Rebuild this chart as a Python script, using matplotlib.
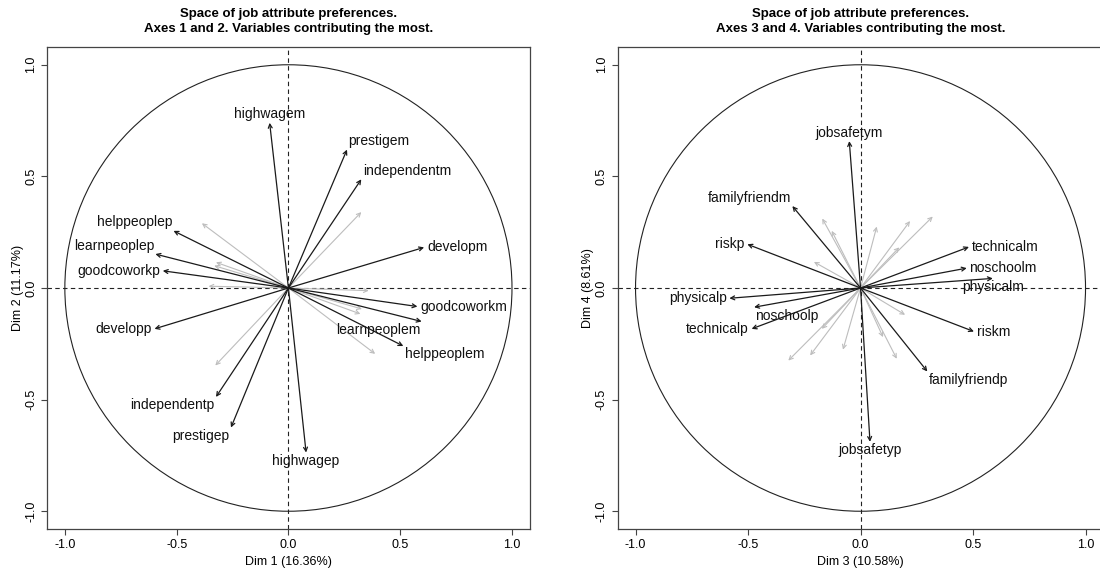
import matplotlib.pyplot as plt
import numpy as np

plt.rcParams['font.family'] = ['Liberation Sans', 'DejaVu Sans']
plt.rcParams['axes.unicode_minus'] = False

# Axes 1 and 2: variables contributing the most (black arrows)
names_12 = ['highwagem', 'prestigem', 'independentm', 'developm', 'goodcoworkm',
            'learnpeoplem', 'helppeoplem', 'highwagep', 'prestigep', 'independentp',
            'developp', 'goodcoworkp', 'learnpeoplep', 'helppeoplep']
dim1 = [-0.084, 0.262, 0.326, 0.607, 0.577, 0.596, 0.514, 0.079, -0.257, -0.324,
        -0.599, -0.562, -0.595, -0.514]
dim2 = [0.74, 0.62, 0.487, 0.182, -0.083, -0.150, -0.26, -0.737, -0.625, -0.488,
        -0.183, 0.077, 0.152, 0.256]
# label side relative to arrow tip
side_12 = ['N', 'NE', 'NE', 'E', 'E', 'SW', 'SE', 'S', 'SW', 'SW', 'W', 'W', 'NW', 'NW']

# remaining variables (grey arrows)
grey_dim1 = [-0.387, -0.324, -0.332, -0.357, 0.326, 0.359, 0.329, 0.322, 0.388, -0.327]
grey_dim2 = [0.29, 0.115, 0.10, 0.008, 0.34, -0.012, -0.094, -0.116, -0.295, -0.347]

# Axes 3 and 4
names_34 = ['jobsafetym', 'familyfriendm', 'riskp', 'physicalp', 'noschoolp', 'technicalp',
            'jobsafetyp', 'technicalm', 'noschoolm', 'physicalm', 'riskm', 'familyfriendp']
dim3 = [-0.05, -0.303, -0.503, -0.583, -0.473, -0.484, 0.042, 0.482, 0.472, 0.588, 0.504, 0.297]
dim4 = [0.658, 0.367, 0.196, -0.046, -0.086, -0.183, -0.689, 0.184, 0.089, 0.043, -0.195, -0.374]
side_34 = ['N', 'NW', 'W', 'W', 'SE', 'W', 'S', 'E', 'E', 'S', 'E', 'SE']

grey_dim3 = [-0.17, 0.072, 0.22, 0.321, 0.172, -0.207, -0.128, 0.198, 0.161, 0.10,
             -0.321, -0.224, -0.172, -0.078]
grey_dim4 = [0.311, 0.275, 0.30, 0.32, 0.182, 0.117, 0.256, -0.12, -0.317, -0.22,
             -0.325, -0.302, -0.183, -0.276]

ticks = [-1.0, -0.5, 0.0, 0.5, 1.0]

# offset (points), ha, va for each label side
placement = {'N': (0, 1, 'center', 'bottom'), 'S': (0, -1, 'center', 'top'),
             'E': (2, 0, 'left', 'center'), 'W': (-2, 0, 'right', 'center'),
             'NE': (1, 1, 'left', 'bottom'), 'NW': (-1, 1, 'right', 'bottom'),
             'SE': (1, -1, 'left', 'top'), 'SW': (-1, -1, 'right', 'top')}


def arrow(ax, x, y, color, lw):
    ax.annotate('', xy=(x, y), xytext=(0, 0),
                arrowprops=dict(arrowstyle='->', color=color, lw=lw,
                                shrinkA=0, shrinkB=0, mutation_scale=7))


def draw_panel(ax, names, xs, ys, sides, gx, gy, title, xlabel, ylabel):
    ax.add_patch(plt.Circle((0, 0), 1, fill=False, color='#222222', lw=0.8))
    ax.axhline(0, color='#222222', lw=0.8, dashes=(4, 3))
    ax.axvline(0, color='#222222', lw=0.8, dashes=(4, 3))

    for x, y in zip(gx, gy):
        arrow(ax, x, y, '#bdbdbd', 0.8)
    for name, x, y, s in zip(names, xs, ys, sides):
        arrow(ax, x, y, '#1a1a1a', 0.9)
        dx, dy, ha, va = placement[s]
        ax.annotate(name, xy=(x, y), xytext=(dx, dy), textcoords='offset points',
                    ha=ha, va=va, fontsize=10, color='#111111')

    ax.set_xlim(-1.08, 1.08)
    ax.set_ylim(-1.08, 1.08)
    ax.set_xticks(ticks)
    ax.set_yticks(ticks)
    ax.set_xticklabels(['%.1f' % t for t in ticks], fontsize=9)
    ax.set_yticklabels(['%.1f' % t for t in ticks], fontsize=9, rotation=90, va='center')
    ax.tick_params(length=4, width=0.8, color='#444444', pad=3)
    for sp in ax.spines.values():
        sp.set_color('#444444')
        sp.set_linewidth(0.9)
    ax.set_xlabel(xlabel, fontsize=9, labelpad=4)
    ax.set_ylabel(ylabel, fontsize=9, labelpad=1)
    ax.set_title(title, fontsize=9.5, fontweight='bold', pad=11, linespacing=1.3)


fig = plt.figure(figsize=(11, 5.72), dpi=100)
ax1 = fig.add_axes([0.0427, 0.075, 0.439, 0.843])
ax2 = fig.add_axes([0.5614, 0.075, 0.4418, 0.843])

draw_panel(ax1, names_12, dim1, dim2, side_12, grey_dim1, grey_dim2,
           'Space of job attribute preferences.\nAxes 1 and 2. Variables contributing the most.',
           'Dim 1 (16.36%)', 'Dim 2 (11.17%)')
draw_panel(ax2, names_34, dim3, dim4, side_34, grey_dim3, grey_dim4,
           'Space of job attribute preferences.\nAxes 3 and 4. Variables contributing the most.',
           'Dim 3 (10.58%)', 'Dim 4 (8.61%)')
# the reference picture is cropped at the right edge of the second panel
ax2.spines['right'].set_visible(False)

fig.savefig('out.png', dpi=100)
